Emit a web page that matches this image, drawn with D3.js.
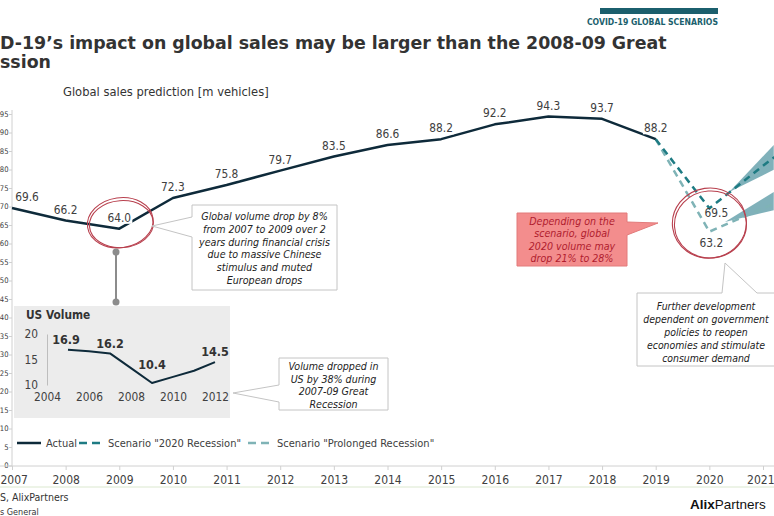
<!DOCTYPE html>
<html><head><meta charset="utf-8">
<script src="https://cdn.jsdelivr.net/npm/d3@7"></script>
<style>body{margin:0;background:#fff}svg{display:block}</style>
</head><body>
<svg id="c" width="774" height="516"></svg>
<script>
// ---------- data ----------
const years = [2007,2008,2009,2010,2011,2012,2013,2014,2015,2016,2017,2018,2019];
const actual = [69.6,66.2,64.0,72.3,75.8,79.7,83.5,86.6,88.2,92.2,94.3,93.7,88.2];
const scenarioYears = [2019,2020,2021,2022];
const recession2020 = [88.2,69.5,81,92];
const prolongedRecession = [88.2,63.2,69.5,75.8];
const fanRecessionYears = [2020.37,2021.2];
const fanRecessionLow = [73.9,79.9];
const fanRecessionHigh = [73.9,86.6];
const fanProlongedYears = [2020.29,2021.2];
const fanProlongedLow = [65.8,69.0];
const fanProlongedHigh = [65.8,73.9];
const xTicks = d3.range(2007,2022);
const yTicks = d3.range(0,100,5);
const usYears = [2005,2006,2007,2008,2009,2010,2011,2012];
const usVolume = [16.9,16.6,16.2,13.3,10.4,11.6,12.8,14.5];
const usLabelled = [2005,2007,2009,2012];
const usXTicks = [2004,2006,2008,2010,2012];
const usYTicks = [10,15,20];
const seriesNames = ["Actual",'Scenario "2020 Recession"','Scenario "Prolonged Recession"'];
const titleLines = ["D-19’s impact on global sales may be larger than the 2008-09 Great","ssion"];
const footLines = ["S, AlixPartners","s General"];

// ---------- setup ----------
const F = "'DejaVu Sans Condensed','DejaVu Sans',sans-serif";
const svg = d3.select("#c").style("font-family",F);
const x = d3.scaleLinear().domain([2007,2021]).range([12,763]);
const y = d3.scaleLinear().domain([0,95]).range([465.5,114]);
const C_ACT = "#0e2a3a", C_REC = "#1e7b83", C_PRO = "#7fb3b6", C_FAN = "#6aa3ae", C_RED = "#b8404e";

// header
svg.append("rect").attr("x",600).attr("y",8).attr("width",118).attr("height",6).attr("fill","#1b5f6d");
svg.append("text").attr("x",718).attr("y",25).attr("text-anchor","end")
  .attr("font-size",8.6).attr("font-weight","bold").attr("fill","#1b5f6d").text("COVID-19 GLOBAL SCENARIOS");

// title (visible part of the cropped title)
const t1 = svg.append("text").attr("font-size",18).attr("font-weight","bold").attr("fill","#333").text(titleLines[0]);
const sx = 667 / t1.node().getComputedTextLength();
t1.attr("transform",`translate(0,48.5) scale(${sx},1)`);
svg.append("text").attr("font-size",18).attr("font-weight","bold").attr("fill","#333").text(titleLines[1])
  .attr("transform",`translate(0,68) scale(${sx},1)`);

svg.append("text").attr("x",63).attr("y",96).attr("font-size",12.8).attr("fill","#333")
  .text("Global sales prediction [m vehicles]");

// axes
const gy = svg.append("g").attr("transform","translate(12,0)")
  .call(d3.axisLeft(y).tickValues(yTicks).tickSize(3).tickPadding(0.5));
const gx = svg.append("g").attr("transform","translate(0,466)")
  .call(d3.axisBottom(x).tickValues(xTicks).tickFormat(d3.format("d")).tickSize(4).tickPadding(5));
[gy,gx].forEach(g=>{
  g.selectAll("path,line").attr("stroke","#d0d0d0");
  g.selectAll("text").attr("font-family",F).attr("fill","#404040");
});
gy.selectAll("text").attr("font-size",7.6);
gx.selectAll("text").attr("font-size",12);
gx.selectAll(".tick text").filter(d=>d===2007).attr("text-anchor","start").attr("x",-12);
gx.selectAll(".tick text").filter(d=>d===2021).attr("text-anchor","end").attr("x",11);
gy.select(".domain").attr("d","M0,110V466");
gx.select(".domain").attr("d","M0,0H774");

// fans
const area = d3.area().x(d=>x(d[0])).y0(d=>y(d[1])).y1(d=>y(d[2]));
svg.append("path").datum(fanRecessionYears.map((d,i)=>[d,fanRecessionLow[i],fanRecessionHigh[i]]))
  .attr("d",area).attr("fill",C_FAN).attr("opacity",0.85);
svg.append("path").datum(fanProlongedYears.map((d,i)=>[d,fanProlongedLow[i],fanProlongedHigh[i]]))
  .attr("d",area).attr("fill",C_FAN).attr("opacity",0.85);

// lines
const line = d3.line().x(d=>x(d[0])).y(d=>y(d[1]));
svg.append("path").datum(scenarioYears.map((d,i)=>[d,prolongedRecession[i]]))
  .attr("d",line).attr("fill","none").attr("stroke",C_PRO).attr("stroke-width",2.5).attr("stroke-dasharray","7,5");
svg.append("path").datum(scenarioYears.map((d,i)=>[d,recession2020[i]]))
  .attr("d",line).attr("fill","none").attr("stroke",C_REC).attr("stroke-width",2.5).attr("stroke-dasharray","7,5");
svg.append("path").datum(years.map((d,i)=>[d,actual[i]]))
  .attr("d",line).attr("fill","none").attr("stroke",C_ACT).attr("stroke-width",2.5).attr("stroke-linejoin","round");

// data labels
function label(g, cx, cy, txt, opts={}){
  const t = g.append("text").attr("x",cx).attr("y",cy).attr("dy","0.35em").attr("text-anchor","middle")
    .attr("font-size",opts.size||11.8).attr("fill",opts.fill||"#404040").attr("font-weight",opts.weight||"normal").text(txt);
  if(opts.bg){
    const b = t.node().getBBox();
    g.insert("rect",()=>t.node()).attr("x",b.x-1).attr("y",b.y+1).attr("width",b.width+2).attr("height",b.height-2).attr("fill","#fff");
  }
  return t;
}
const lg = svg.append("g");
years.forEach((yr,i)=>{
  label(lg, x(yr)+(i===0?15:0), y(actual[i])-11, actual[i].toFixed(1), {bg:true});
});
label(lg, x(2020)+7, y(recession2020[1])+5, recession2020[1].toFixed(1));
label(lg, x(2020)+2, y(prolongedRecession[1])+11, prolongedRecession[1].toFixed(1));

// red circles
function handCircle(cx,cy,rx,ry){
  svg.append("ellipse").attr("cx",cx).attr("cy",cy).attr("rx",rx).attr("ry",ry)
    .attr("transform",`rotate(-8,${cx},${cy})`).attr("fill","none").attr("stroke",C_RED).attr("stroke-width",1.1);
  svg.append("ellipse").attr("cx",cx+1).attr("cy",cy+1.5).attr("rx",rx-1).attr("ry",ry-1.5)
    .attr("transform",`rotate(-4,${cx},${cy})`).attr("fill","none").attr("stroke",C_RED).attr("stroke-width",1.1);
}
handCircle(x(2009)+1, y(64.0)-6, 33, 25);
handCircle(x(2020), y(65.8)+1, 37, 35);

// connector
svg.append("line").attr("x1",116).attr("x2",116).attr("y1",252).attr("y2",302).attr("stroke","#8c8c8c").attr("stroke-width",2);
[252,302].forEach(cy=>svg.append("circle").attr("cx",116).attr("cy",cy).attr("r",3.5).attr("fill","#8c8c8c"));

// US inset
svg.append("rect").attr("x",14).attr("y",306).attr("width",216).attr("height",112).attr("fill","#ececec");
svg.append("text").attr("x",26).attr("y",319).attr("font-size",11.8).attr("font-weight","bold").attr("fill","#333").text("US Volume");
const ux = d3.scaleLinear().domain([2004,2012]).range([47,215]);
const uy = d3.scaleLinear().domain([10,20]).range([385,334]);
const uya = svg.append("g").attr("transform","translate(47,0)").call(d3.axisLeft(uy).tickValues(usYTicks).tickSize(0).tickPadding(9));
const uxa = svg.append("g").attr("transform","translate(0,385)").call(d3.axisBottom(ux).tickValues(usXTicks).tickFormat(d3.format("d")).tickSize(0).tickPadding(8));
uya.select(".domain").attr("stroke","#bdbdbd");
uxa.select(".domain").remove();
[uya,uxa].forEach(g=>g.selectAll("text").attr("font-family",F).attr("font-size",11.8).attr("fill","#404040"));
svg.append("path").datum(usYears.map((d,i)=>[d,usVolume[i]]))
  .attr("d",d3.line().x(d=>ux(d[0])).y(d=>uy(d[1]))).attr("fill","none").attr("stroke",C_ACT).attr("stroke-width",2).attr("stroke-linejoin","round");
usLabelled.forEach(yr=>{
  const v = usVolume[usYears.indexOf(yr)];
  const dy = v < 11 ? -18 : -10;
  label(svg, ux(yr)-(yr===2005?2:0), uy(v)+dy, v.toFixed(1), {weight:"bold", fill:"#333", size:12.5});
});

// callouts
function callout(box, wedge, lines, opts={}){
  const {x:bx,y:by,w,h} = box; let d;
  if(wedge.side==="left") d=`M${bx},${by}H${bx+w}V${by+h}H${bx}V${wedge.b2}L${wedge.tx},${wedge.ty}L${bx},${wedge.b1}Z`;
  if(wedge.side==="right") d=`M${bx},${by}H${bx+w}V${wedge.b1}L${wedge.tx},${wedge.ty}L${bx+w},${wedge.b2}V${by+h}H${bx}Z`;
  if(wedge.side==="top") d=`M${bx},${by}H${wedge.b1}L${wedge.tx},${wedge.ty}L${wedge.b2},${by}H${bx+w}V${by+h}H${bx}Z`;
  svg.append("path").attr("d",d).attr("fill",opts.fill||"#fff").attr("stroke",opts.stroke||"#c4c4c4").attr("stroke-width",1);
  const t = svg.append("text").attr("text-anchor","middle").attr("font-style","italic")
    .attr("font-size",opts.size||10.6).attr("fill",opts.color||"#222");
  lines.forEach((l,i)=>t.append("tspan").attr("x",opts.cx).attr("y",opts.y0+i*opts.lh).text(l));
}
callout({x:192,y:205,w:145,h:85},{side:"left",tx:152,ty:226,b1:217,b2:237},
  ["Global volume drop by 8%","from 2007 to 2009 over 2","years during financial crisis","due to massive Chinese","stimulus and muted","European drops"],
  {cx:264.5,y0:220,lh:12.8});
callout({x:279,y:358,w:109,h:52},{side:"left",tx:233,ty:393,b1:385,b2:402},
  ["Volume dropped in","US by 38% during","2007-09 Great","Recession"],{cx:333.5,y0:370,lh:12.7});
callout({x:517,y:213,w:110,h:53},{side:"right",tx:658,ty:223,b1:222,b2:235},
  ["Depending on the","scenario, global","2020 volume may","drop 21% to 28%"],
  {cx:572,y0:225,lh:12.4,fill:"#f38d8d",stroke:"#e27a7a",color:"#b01c2e"});
callout({x:637,y:293,w:160,h:73},{side:"top",tx:725,ty:263,b1:722,b2:757},
  ["Further development","dependent on government","policies to reopen","economies and stimulate","consumer demand"],
  {cx:706,y0:310,lh:13,size:10.4});

// legend
const leg = svg.append("g");
const legItems = [
  {name:seriesNames[0],x:17,color:C_ACT,dash:null},
  {name:seriesNames[1],x:79,color:C_REC,dash:"8,5"},
  {name:seriesNames[2],x:248,color:C_PRO,dash:"8,5"}];
legItems.forEach(it=>{
  leg.append("line").attr("x1",it.x).attr("x2",it.x+24).attr("y1",443).attr("y2",443)
    .attr("stroke",it.color).attr("stroke-width",2.5).attr("stroke-dasharray",it.dash);
  leg.append("text").attr("x",it.x+29).attr("y",447).attr("font-size",11).attr("fill","#404040").text(it.name);
});

// footer
svg.append("line").attr("x1",0).attr("x2",774).attr("y1",487).attr("y2",487).attr("stroke","#dbe8cf").attr("stroke-width",1);
svg.append("text").attr("x",0).attr("y",501).attr("font-size",10.5).attr("fill","#333").text(footLines[0]);
svg.append("text").attr("x",0).attr("y",515).attr("font-size",9).attr("fill","#333").text(footLines[1]);
const logo = svg.append("text").attr("x",690).attr("y",509).attr("font-family","'Liberation Sans',Arial,sans-serif").attr("font-size",13.5).attr("fill","#111");
logo.append("tspan").attr("font-weight","bold").text("Alix");
logo.append("tspan").text("Partners");
</script>
</body></html>
